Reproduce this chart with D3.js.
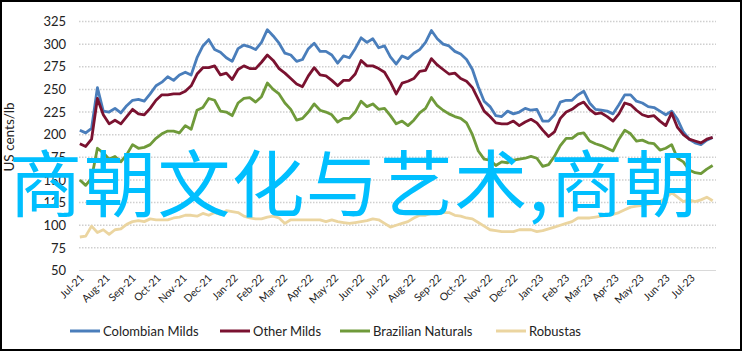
<!DOCTYPE html>
<html><head><meta charset="utf-8">
<script src="https://cdn.jsdelivr.net/npm/d3@7"></script>
<style>body{margin:0;background:#fff}svg{display:block}</style>
</head><body>
<svg id="c" width="743" height="352"></svg>
<script>
const seriesNames = ["Colombian Milds","Other Milds","Brazilian Naturals","Robustas"];
const seriesColors = ["#4A7EBB","#7A1230","#6F9A3A","#EBD5A0"];
const yTicks = [50,75,100,125,150,175,200,225,250,275,300,325];
const startDate = new Date(2021,6,2);
const colombian = [205,202,207,252,226,225,229,224,232,238,239,237,245,254,258,264,260,266,269,266,285,298,305,294,291,285,281,295,299,297,294,302,316,309,301,290,288,281,283,295,301,292,292,288,279,287,285,295,307,302,306,296,298,286,278,287,284,290,294,302,315,306,300,298,292,289,283,272,253,237,231,221,220,226,223,225,229,227,228,215,215,222,236,238,238,244,248,235,228,227,226,223,233,244,244,237,235,231,230,226,222,226,217,203,195,191,189,194,197];
const otherMilds = [190,187,195,240,222,212,216,212,220,228,223,222,229,238,244,244,245,245,248,254,267,274,274,276,266,268,261,272,276,273,273,280,288,282,273,268,262,256,253,265,274,266,265,260,254,260,260,267,282,276,276,273,269,258,245,257,259,262,270,271,284,277,272,267,268,262,259,252,239,226,220,213,212,212,215,210,214,217,213,205,198,203,218,225,228,233,236,228,223,224,220,215,223,235,233,227,222,220,221,215,210,224,208,200,195,193,191,195,197];
const brazilian = [150,144,152,185,180,173,176,170,178,189,185,186,189,196,201,204,204,202,210,206,227,230,240,238,226,225,221,235,240,241,236,242,257,250,245,235,228,216,218,225,234,227,225,222,214,218,218,225,237,231,234,228,229,221,212,215,210,216,224,229,241,232,227,223,220,218,213,200,182,173,172,166,170,169,172,173,174,176,174,165,167,176,188,196,196,201,202,193,190,188,185,182,195,205,201,193,194,191,190,183,185,189,174,170,161,158,157,162,166];
const robustas = [87,88,99,92,95,90,95,96,101,104,105,104,107,106,106,106,108,109,111,111,110,113,111,114,112,116,115,114,110,108,107,107,109,110,108,102,106,106,106,106,106,106,104,106,104,103,102,103,104,105,107,106,102,98,100,102,104,108,111,111,113,113,114,114,111,110,108,107,103,99,95,94,93,93,93,95,95,95,93,94,96,98,100,102,104,108,108,108,109,110,111,112,114,117,120,121,122,123,124,126,130,136,131,126,128,126,128,131,127];
const overlayText = "商朝文化与艺术,商朝";

const dates = colombian.map((_, i) => d3.timeDay.offset(startDate, 7 * i));
const allSeries = [colombian, otherMilds, brazilian, robustas];

const svg = d3.select("#c");
const x = d3.scaleTime([new Date(2021,6,1), new Date(2023,7,1)], [79, 716]);
const y = d3.scaleLinear([50, 325], [270.5, 21.5]);
const font = "Lato, 'Open Sans', sans-serif";

svg.append("rect").attr("x",1).attr("y",1).attr("width",740).attr("height",349)
  .attr("fill","#fff").attr("stroke","#000").attr("stroke-width",2);

// grid
svg.append("g").selectAll("line").data(yTicks).join("line")
  .attr("x1",79).attr("x2",716)
  .attr("y1",d=>y(d)).attr("y2",d=>y(d))
  .attr("stroke",d=>d===50?"#d9d9d9":"#cfcfcf")
  .attr("stroke-width",d=>d===50?1.2:1.5)
  .attr("stroke-dasharray",d=>d===50?null:"1.5,1.5");

// y axis labels
const yAxis = d3.axisLeft(y).tickValues(yTicks).tickSize(0).tickPadding(0);
const gy = svg.append("g").attr("transform","translate(66,0)").call(yAxis);
gy.select(".domain").remove();
gy.selectAll("text").attr("font-family",font).attr("font-size",13).attr("fill","#222");

// x axis labels
const months = d3.timeMonth.range(new Date(2021,6,1), new Date(2023,7,1));
const fmt = d3.timeFormat("%b-%y");
svg.append("g").selectAll("text").data(months).join("text")
  .attr("transform",d=>`translate(${x(d)+3},${276}) rotate(-45)`)
  .attr("text-anchor","end").attr("dy","0.35em")
  .attr("font-family",font).attr("font-size",10.5).attr("fill","#222")
  .text(d=>fmt(d));

// y title
svg.append("text").attr("transform","translate(14,137) rotate(-90)")
  .attr("text-anchor","middle").attr("font-family",font).attr("font-size",13.5).attr("fill","#222")
  .text("US cents/lb");

// lines
const line = d3.line().x((d,i)=>x(dates[i])).y(d=>y(d));
svg.append("g").selectAll("path").data(allSeries).join("path")
  .attr("d",d=>line(d)).attr("fill","none")
  .attr("stroke",(d,i)=>seriesColors[i]).attr("stroke-width",2.8)
  .attr("stroke-linejoin","round");

// legend
const legX = [70,220,340,496];
const lg = svg.append("g").selectAll("g").data(seriesNames).join("g")
  .attr("transform",(d,i)=>`translate(${legX[i]},331)`);
lg.append("line").attr("x1",0).attr("x2",30).attr("y1",0).attr("y2",0)
  .attr("stroke",(d,i)=>seriesColors[i]).attr("stroke-width",3);
lg.append("text").attr("x",33).attr("dy","0.35em").attr("font-family",font)
  .attr("font-size",13).attr("fill","#222").text(d=>d);

// overlay
svg.append("text").attr("x",9).attr("y",211)
  .attr("font-family","'Noto Sans CJK SC', sans-serif").attr("font-size",73)
  .attr("letter-spacing",1.2)
  .attr("fill","#00BFFF").text(overlayText);
</script>
</body></html>
